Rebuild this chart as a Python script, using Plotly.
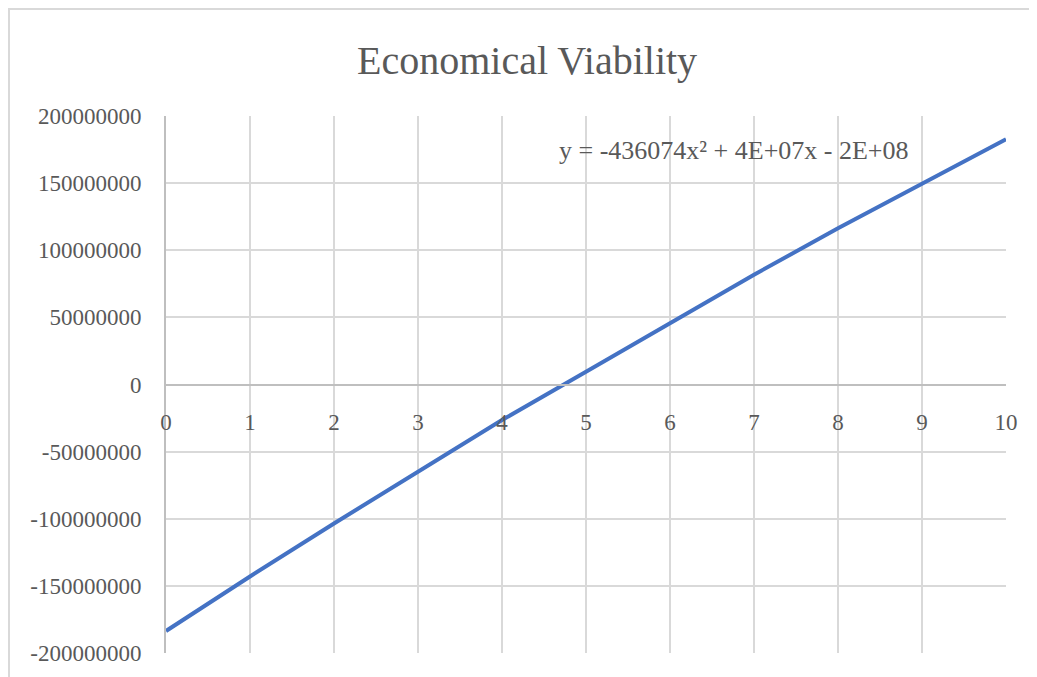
import plotly.graph_objects as go

# Data
years = [0, 1, 2, 3, 4, 5, 6, 7, 8, 9, 10]
values = [-183.6e6, -143.0e6, -103.5e6, -65.0e6, -26.5e6, 9.5e6,
          46.0e6, 81.8e6, 116.3e6, 149.8e6, 182.6e6]

y_tickvals = [-200e6, -150e6, -100e6, -50e6, 0, 50e6, 100e6, 150e6, 200e6]
y_ticktext = ["-200000000", "-150000000", "-100000000", "-50000000", "0",
              "50000000", "100000000", "150000000", "200000000"]
x_tickvals = list(range(0, 11))
x_ticktext = [str(v) for v in x_tickvals]

title_text = "Economical Viability"
trend_text = "y = -436074x² + 4E+07x - 2E+08"

FONT = "Liberation Serif"
TXT = "#595959"
GRID = "#d9d9d9"
AXIS = "#bfbfbf"

OFF = 8  # default page body margin
W, H = 1037 - OFF, 677 - OFF
# target plot area in page pixels: x 166..1006, y 116..653
L, T = 166 - OFF, 116 - OFF
R, B = W - (1006 - OFF), H - (653 - OFF)
pw, ph = W - L - R, H - T - B


def px_x(px):
    return (px - 166) / pw


def px_y(py):
    return (653 - py) / ph


fig = go.Figure()
fig.add_trace(go.Scatter(
    x=years, y=values, mode="lines",
    line=dict(color="#4472c4", width=4),
    showlegend=False, hoverinfo="skip",
))

fig.update_layout(
    width=W, height=H,
    margin=dict(l=L, r=R, t=T, b=B, pad=0),
    paper_bgcolor="white", plot_bgcolor="white",
    font=dict(family=FONT, color=TXT, size=23),
    xaxis=dict(
        range=[0, 10], tickvals=x_tickvals, ticktext=x_ticktext,
        showgrid=True, gridcolor=GRID, gridwidth=2,
        zeroline=False, showline=True, linecolor=AXIS, linewidth=2,
        anchor="free", position=0.5, side="bottom",
        ticks="", ticklabelstandoff=17,
        tickfont=dict(family=FONT, size=23, color=TXT),
        fixedrange=True,
    ),
    yaxis=dict(
        range=[-200e6, 200e6], tickvals=y_tickvals, ticktext=y_ticktext,
        showgrid=True, gridcolor=GRID, gridwidth=2,
        zeroline=False, showline=True, linecolor=AXIS, linewidth=2,
        ticks="", ticklabelstandoff=18,
        tickfont=dict(family=FONT, size=23, color=TXT),
        fixedrange=True,
    ),
    shapes=[dict(
        type="rect", xref="paper", yref="paper",
        x0=px_x(9), x1=px_x(1045),
        y0=px_y(700), y1=px_y(9),
        line=dict(color=GRID, width=2), fillcolor="rgba(0,0,0,0)",
        layer="below",
    )],
    annotations=[
        dict(
            text=title_text, xref="paper", yref="paper",
            x=px_x(527), y=px_y(60),
            xanchor="center", yanchor="middle", showarrow=False,
            font=dict(family=FONT, size=40, color=TXT),
        ),
        dict(
            text=trend_text, xref="paper", yref="paper",
            x=px_x(734), y=px_y(150),
            xanchor="center", yanchor="middle", showarrow=False,
            font=dict(family=FONT, size=26, color=TXT),
        ),
    ],
)

fig.write_html("out.html")
